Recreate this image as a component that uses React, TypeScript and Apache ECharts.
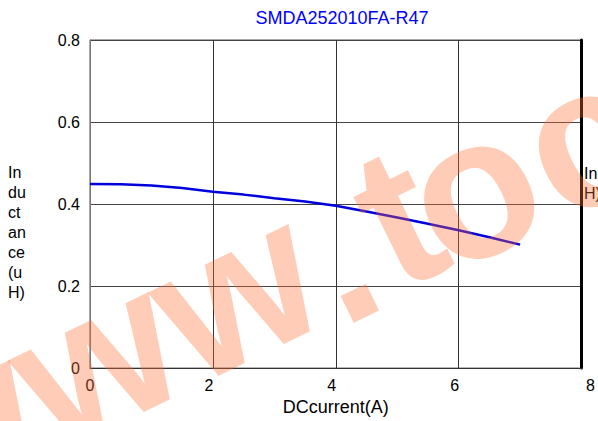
import React, { useEffect, useRef } from "react";
import * as echarts from "echarts";

const currentA = [0, 0.5, 1, 1.5, 2, 2.5, 3, 3.5, 4, 4.5, 5, 5.5, 6, 6.5, 7];
const inductanceUH = [0.449, 0.448, 0.445, 0.439, 0.43, 0.423, 0.414, 0.406, 0.396, 0.382, 0.367, 0.352, 0.336, 0.319, 0.301];
const xTicks = [0, 2, 4, 6, 8];
const xTickLabels = ["0", "2", "4", "6", "8"];
const yTicks = [0, 0.2, 0.4, 0.6, 0.8];
const yTickLabels = ["0", "0.2", "0.4", "0.6", "0.8"];
const titleText = "SMDA252010FA-R47";
const xName = "DCcurrent(A)";
const yNameLines = ["In", "du", "ct", "an", "ce", "(u", "H)"];
const rightNameLines = ["In", "H)"];
const watermarkLetters = ["w", "w", "w", ".", "t", "o", "c"];

const FONT = "'Liberation Sans', Arial, Helvetica, sans-serif";

// watermark letter anchors (page pixels), rotated text
const WM_ANCHORS: [number, number][] = [
  [-45, 427],
  [94, 359],
  [234, 291],
  [336, 254],
  [397, 216],
  [472, 188],
  [582, 138],
];

export default function App() {
  const ref = useRef<HTMLDivElement>(null);

  useEffect(() => {
    document.body.style.margin = "0";
    if (!ref.current) return;
    const chart = echarts.init(ref.current, undefined, { renderer: "svg" });

    const graphics: any[] = [];
    graphics.push({
      type: "text",
      x: 342,
      y: 18,
      style: {
        text: titleText,
        fill: "#0000ff",
        fontSize: 18,
        fontFamily: FONT,
        textAlign: "center",
        align: "center",
        textVerticalAlign: "middle",
        verticalAlign: "middle",
      },
    });
    yNameLines.forEach((t, i) => {
      graphics.push({
        type: "text",
        x: 8,
        y: 172 + i * 20,
        style: {
          text: t,
          fill: "#000",
          fontSize: 16,
          fontFamily: FONT,
          textAlign: "left",
          align: "left",
          textVerticalAlign: "middle",
          verticalAlign: "middle",
        },
      });
    });
    rightNameLines.forEach((t, i) => {
      graphics.push({
        type: "text",
        x: 584,
        y: 173 + i * 20,
        style: {
          text: t,
          fill: "#000",
          fontSize: 16,
          fontFamily: FONT,
          textAlign: "left",
          align: "left",
          textVerticalAlign: "middle",
          verticalAlign: "middle",
        },
      });
    });
    watermarkLetters.forEach((ch, i) => {
      const [x, y] = WM_ANCHORS[i];
      graphics.push({
        type: "text",
        x,
        y,
        rotation: (26 * Math.PI) / 180,
        z: 100,
        silent: true,
        style: {
          text: ch,
          fill: "rgba(255,110,50,0.35)",
          fontSize: 200,
          fontWeight: "bold",
          fontFamily: FONT,
          textAlign: "center",
          align: "center",
          textVerticalAlign: "middle",
          verticalAlign: "middle",
        },
      });
    });

    const labelStyle = { fontSize: 16, color: "#000", fontFamily: FONT };

    chart.setOption({
      animation: false,
      backgroundColor: "#fff",
      grid: {
        left: 90,
        right: 16,
        top: 40,
        bottom: 51,
        show: true,
        borderColor: "#555",
        borderWidth: 1,
      },
      xAxis: {
        type: "value",
        min: 0,
        max: 8,
        interval: 2,
        axisLine: { show: true, lineStyle: { color: "#333", width: 1 } },
        axisTick: { show: false },
        splitLine: { show: true, lineStyle: { color: "#333", width: 1 } },
        axisLabel: {
          ...labelStyle,
          margin: 9,
          formatter: (v: number) => {
            const i = xTicks.indexOf(v);
            const s = i >= 0 ? xTickLabels[i] : "";
            if (v === 0) return `{c|${s}}`;
            if (v === 8) return `{r|${s}}`;
            return `{l|${s}}`;
          },
          rich: {
            c: { ...labelStyle },
            l: { ...labelStyle, padding: [0, 8, 0, 0] },
            r: { ...labelStyle, padding: [0, 0, 0, 18] },
          },
        },
        name: xName,
        nameLocation: "middle",
        nameGap: 21,
        nameTextStyle: { fontSize: 18, color: "#000", fontFamily: FONT },
      },
      yAxis: [
        {
          type: "value",
          min: 0,
          max: 0.8,
          interval: 0.2,
          axisLine: { show: true, lineStyle: { color: "#777", width: 1 } },
          axisTick: { show: false },
          splitLine: { show: true, lineStyle: { color: "#444", width: 1 } },
          axisLabel: {
            ...labelStyle,
            margin: 10,
            formatter: (v: number) => {
              const i = yTicks.findIndex((t) => Math.abs(t - v) < 1e-9);
              return i >= 0 ? yTickLabels[i] : "";
            },
          },
        },
        {
          type: "value",
          position: "right",
          min: 0,
          max: 0.8,
          interval: 0.2,
          axisLine: { show: true, lineStyle: { color: "#000", width: 3 } },
          axisTick: { show: false },
          axisLabel: { show: false },
          splitLine: { show: false },
        },
      ],
      series: [
        {
          type: "line",
          data: currentA.map((x, i) => [x, inductanceUH[i]]),
          smooth: false,
          showSymbol: false,
          symbol: "none",
          lineStyle: { color: "#0000dd", width: 2.5 },
          yAxisIndex: 0,
        },
      ],
      graphic: graphics,
    });

    return () => {
      chart.dispose();
    };
  }, []);

  return <div ref={ref} style={{ width: 598, height: 421 }} />;
}
